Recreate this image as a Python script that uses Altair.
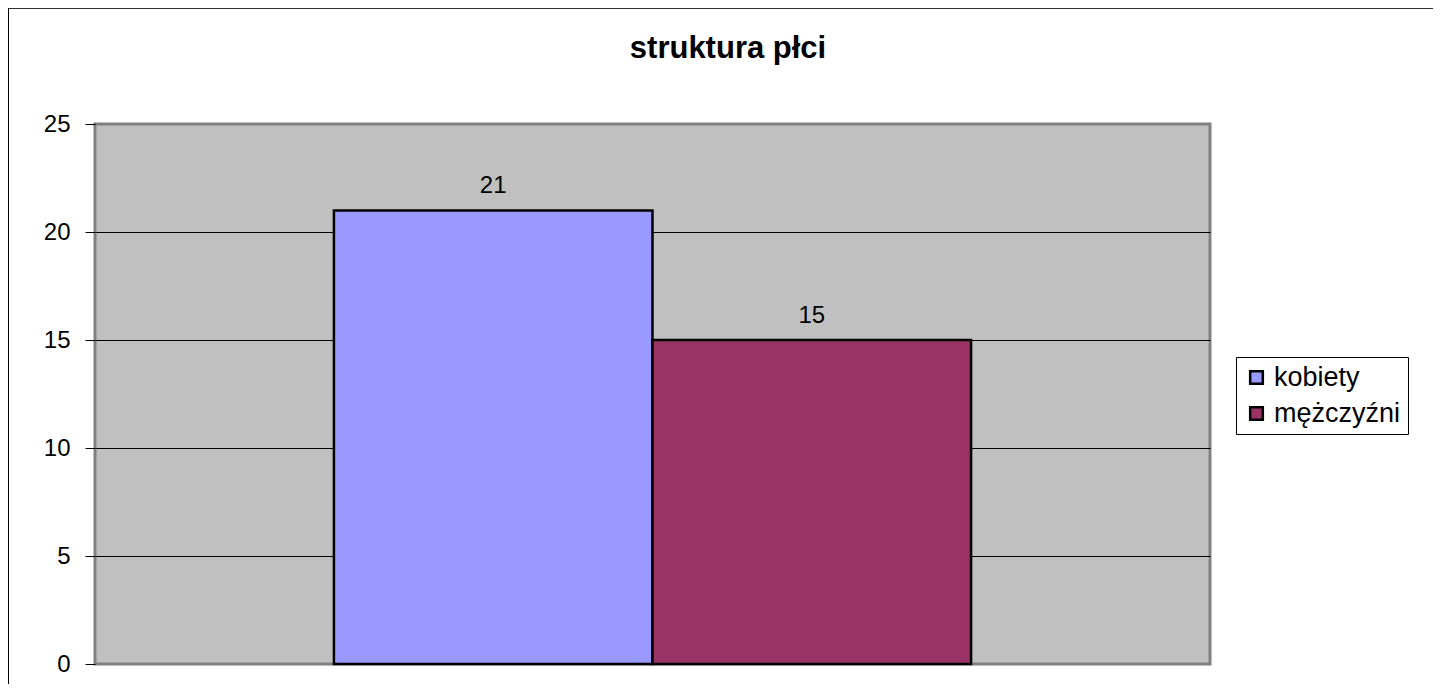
import altair as alt
import pandas as pd

# ---- data ----
series = ["kobiety", "mężczyźni"]
values = [21, 15]
colors = ["#9999FF", "#993366"]
y_ticks = [0, 5, 10, 15, 20, 25]
chart_title = "struktura płci"

df = pd.DataFrame({"seria": series, "liczba": values})
frame_df = pd.DataFrame({"t": [chart_title]})

W, H = 1115, 540
FONT = "Liberation Sans"

x_enc = alt.X(
    "seria:N",
    sort=series,
    axis=None,
    scale=alt.Scale(paddingInner=0, paddingOuter=0.75),
)
y_enc = alt.Y(
    "liczba:Q",
    scale=alt.Scale(domain=[0, 25], nice=False),
    axis=alt.Axis(
        values=y_ticks,
        title=None,
        grid=True,
        gridColor="black",
        gridWidth=1,
        gridOpacity=alt.condition("datum.value == 0 || datum.value == 25", alt.value(0), alt.value(1)),
        tickColor="black",
        tickSize=10,
        tickWidth=1,
        domain=False,
        labelFontSize=24,
        labelFont=FONT,
        labelColor="black",
        labelPadding=15,
    ),
)

bars = alt.Chart(df).mark_bar(stroke="black", strokeWidth=2.5, opacity=1).encode(
    x=x_enc,
    y=y_enc,
    color=alt.Color(
        "seria:N",
        sort=series,
        scale=alt.Scale(domain=series, range=colors),
        legend=alt.Legend(
            title=None,
            orient="none",
            legendX=1141,
            legendY=233,
            strokeColor="black",
            fillColor="white",
            padding=7,
            symbolType="square",
            symbolSize=160,
            symbolStrokeColor="black",
            symbolStrokeWidth=2.5,
            symbolOpacity=1,
            labelFontSize=27,
            labelFont=FONT,
            labelColor="black",
            labelOffset=4,
            rowPadding=8,
        ),
    ),
)

labels = alt.Chart(df).mark_text(dy=-24, fontSize=24, font=FONT, color="black").encode(
    x=x_enc, y=y_enc, text="liczba:Q"
)

title_text = alt.Chart(frame_df).mark_text(
    fontSize=31, font=FONT, fontWeight="bold", color="black", baseline="alphabetic", align="center"
).encode(x=alt.value(633), y=alt.value(-66), text="t:N")

top_border = alt.Chart(frame_df).mark_rule(color="#303030", strokeWidth=2).encode(
    x=alt.value(-87), x2=alt.value(1400), y=alt.value(-116)
)
left_border = alt.Chart(frame_df).mark_rule(color="black", strokeWidth=2).encode(
    x=alt.value(-87), y=alt.value(-116), y2=alt.value(700)
)

chart = (
    alt.layer(bars, labels, title_text, top_border, left_border)
    .properties(
        width=W,
        height=H,
        autosize=alt.AutoSizeParams(type="none"),
        padding={"left": 87, "top": 116, "right": 223, "bottom": 20},
        background="white",
    )
    .configure_view(fill="#C0C0C0", stroke="#808080", strokeWidth=3)
)

chart.save("out.html", embed_options={"renderer": "svg", "actions": False})
